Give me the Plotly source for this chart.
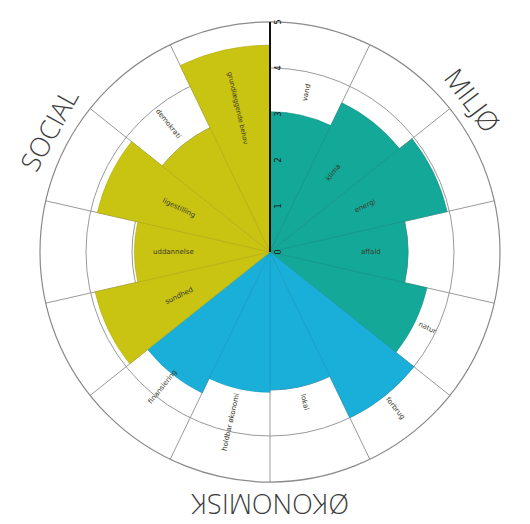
import math
import plotly.graph_objects as go

# ---- data ----
groups = ["MILJØ", "ØKONOMISK", "SOCIAL"]
miljo_labels = ["vand", "klima", "energi", "affald", "natur"]
miljo_values = [3.05, 3.6, 3.95, 3.0, 3.5]
okonomi_labels = ["forbrug", "lokal", "holdbar økonomi", "finansiering"]
okonomi_values = [4.0, 3.0, 3.05, 3.4]
social_labels = ["sundhed", "uddannelse", "ligestilling", "demokrati", "grundlæggende behov"]
social_values = [3.9, 2.95, 3.85, 3.0, 4.5]
radial_ticks = [0, 1, 2, 3, 4, 5]

# ---- styling / layout helpers ----
W, H = 530, 524
BODY = 8  # page body margin offset
cx, cy, R = 270 - BODY, 252 - BODY, 230
rmax = 5
colors = {"MILJØ": "#14A898", "ØKONOMISK": "#1AAFD8", "SOCIAL": "#C9C312"}
edge = {"MILJØ": "#119485", "ØKONOMISK": "#169CC2", "SOCIAL": "#B5AE10"}

all_labels = miljo_labels + okonomi_labels + social_labels
n = len(all_labels)
step = 360.0 / n
thetas = [step * (i + 0.5) for i in range(n)]

fig = go.Figure()
start = 0
for g, labs, vals in [("MILJØ", miljo_labels, miljo_values),
                      ("ØKONOMISK", okonomi_labels, okonomi_values),
                      ("SOCIAL", social_labels, social_values)]:
    th = thetas[start:start + len(vals)]
    fig.add_trace(go.Barpolar(
        r=vals, theta=th, width=[step] * len(vals),
        marker=dict(color=colors[g], line=dict(color=edge[g], width=0.6)),
        name=g, hovertext=labs, showlegend=False))
    start += len(vals)

dom_x = [(cx - R) / W, (cx + R) / W]
dom_y = [(H - cy - R) / H, (H - cy + R) / H]

fig.update_layout(
    width=W, height=H,
    margin=dict(l=0, r=0, t=0, b=0),
    paper_bgcolor="white",
    polar=dict(
        domain=dict(x=dom_x, y=dom_y),
        bgcolor="white",
        bargap=0,
        radialaxis=dict(range=[0, rmax], tickvals=radial_ticks, angle=90,
                        showline=True, linecolor="#111", linewidth=2,
                        gridcolor="#9a9a9a", gridwidth=1,
                        tickfont=dict(size=8, color="#111", family="DejaVu Sans"),
                        ticks="", layer="above traces"),
        angularaxis=dict(rotation=90, direction="clockwise",
                         tickvals=[step * i for i in range(n)],
                         showticklabels=False, ticks="",
                         gridcolor="#9a9a9a", gridwidth=1,
                         linecolor="#8a8a8a", linewidth=1.2,
                         layer="below traces"),
    ),
)

pxu = R / rmax


def to_paper(r, theta_deg):
    t = math.radians(theta_deg)
    x = cx + r * pxu * math.sin(t)
    y = cy - r * pxu * math.cos(t)
    return x / W, (H - y) / H


# sector labels (radial text)
label_radius = [3.55, 2.2, 2.3, 2.2, 3.8,
                4.35, 3.35, 3.8, 3.75,
                2.2, 2.1, 2.2, 3.55, 3.2]
label_size = [7, 7, 7, 7, 7, 7, 7, 7, 7, 7, 7, 7, 7, 6.5]
for lab, th, rr, fs in zip(all_labels, thetas, label_radius, label_size):
    x, y = to_paper(rr, th)
    ang = th - 90 if th < 180 else th + 90
    if ang > 180:
        ang -= 360
    fig.add_annotation(x=x, y=y, xref="paper", yref="paper", text=lab,
                       xanchor="center", yanchor="middle",
                       showarrow=False, textangle=ang,
                       font=dict(size=fs, color="#3a3a2a", family="DejaVu Sans"))

# group labels around the outside
group_theta = [53, 180, 299]
group_r = 5.5
for g, th in zip(groups, group_theta):
    x, y = to_paper(group_r, th)
    ang = th if th <= 180 else th - 360
    fig.add_annotation(x=x, y=y, xref="paper", yref="paper", text=g,
                       xanchor="center", yanchor="middle",
                       showarrow=False, textangle=ang,
                       font=dict(size=27, color="#3c3c3c", family="Open Sans", weight=300))

fig.write_html("out.html")
